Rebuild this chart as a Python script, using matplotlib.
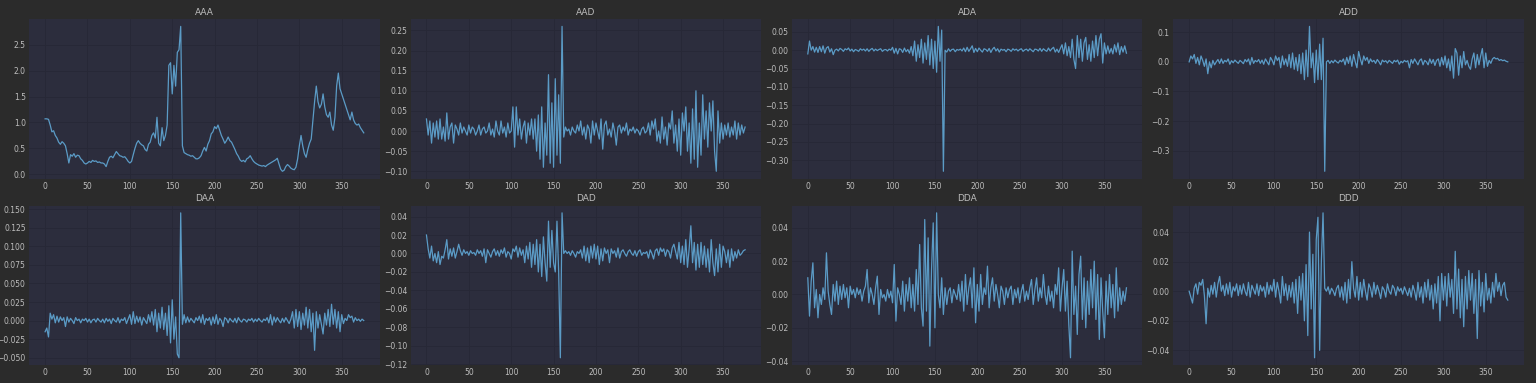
import numpy as np
import matplotlib
matplotlib.use('Agg')
import matplotlib.pyplot as plt

# one value every 2 steps, x = 0, 2, ..., 376
names = ['AAA', 'AAD', 'ADA', 'ADD', 'DAA', 'DAD', 'DDA', 'DDD']

aaa = [1.07, 1.07, 1.06, 0.95, 0.82, 0.84, 0.75, 0.70, 0.62, 0.58,
       0.63, 0.60, 0.55, 0.40, 0.22, 0.38, 0.35, 0.40, 0.33, 0.37,
       0.36, 0.30, 0.27, 0.22, 0.20, 0.22, 0.25, 0.23, 0.27, 0.25,
       0.26, 0.23, 0.24, 0.22, 0.22, 0.20, 0.15, 0.25, 0.33, 0.35,
       0.32, 0.38, 0.44, 0.40, 0.36, 0.35, 0.33, 0.34, 0.30, 0.25,
       0.22, 0.25, 0.38, 0.50, 0.60, 0.65, 0.60, 0.57, 0.55, 0.48,
       0.45, 0.58, 0.62, 0.75, 0.80, 0.70, 1.10, 0.60, 0.55, 0.90,
       0.65, 0.75, 0.95, 2.10, 2.15, 1.55, 2.10, 1.70, 2.35, 2.40,
       2.85, 0.55, 0.42, 0.40, 0.38, 0.37, 0.35, 0.36, 0.33, 0.30,
       0.30, 0.32, 0.36, 0.45, 0.52, 0.45, 0.58, 0.65, 0.78, 0.82,
       0.92, 0.88, 0.95, 0.85, 0.75, 0.68, 0.60, 0.65, 0.72, 0.65,
       0.62, 0.55, 0.48, 0.40, 0.35, 0.28, 0.25, 0.27, 0.24, 0.30,
       0.32, 0.36, 0.30, 0.25, 0.22, 0.20, 0.18, 0.17, 0.16, 0.17,
       0.15, 0.18, 0.20, 0.22, 0.24, 0.26, 0.28, 0.31, 0.20, 0.10,
       0.06, 0.08, 0.15, 0.19, 0.16, 0.12, 0.10, 0.09, 0.14, 0.30,
       0.55, 0.75, 0.55, 0.40, 0.33, 0.48, 0.60, 0.68, 1.05, 1.40,
       1.70, 1.40, 1.28, 1.35, 1.55, 1.30, 1.15, 1.10, 1.20, 0.95,
       0.85, 1.10, 1.70, 1.95, 1.65, 1.55, 1.45, 1.35, 1.25, 1.15,
       1.05, 1.20, 1.05, 0.98, 0.95, 0.97, 0.90, 0.85, 0.80]

aad = [0.03, -0.01, 0.025, -0.03, 0.02, -0.015, 0.025, -0.02, 0.03, -0.02,
       0.01, -0.025, 0.045, -0.02, 0.01, 0.02, -0.03, 0.015, 0.005, -0.01,
       0.02, -0.005, 0.01, 0.0, -0.01, 0.015, -0.005, 0.01, 0.005, -0.01,
       0.0, 0.015, -0.01, 0.005, 0.01, -0.005, 0.0, 0.02, -0.01, 0.005,
       -0.015, 0.025, 0.0, -0.01, 0.025, -0.005, 0.01, -0.015, 0.02, -0.005,
       0.0, 0.06, -0.04, 0.06, -0.01, 0.03, -0.02, 0.01, 0.025, -0.03,
       0.02, -0.01, 0.03, -0.02, 0.03, -0.05, 0.04, -0.07, 0.06, -0.09,
       0.02, -0.06, 0.14, -0.08, 0.07, -0.09, 0.13, -0.06, 0.09, -0.08,
       0.26, -0.015, 0.01, 0.0, 0.005, -0.01, 0.01, 0.0, -0.005, 0.015,
       0.0, 0.025, -0.01, 0.01, -0.02, 0.015, 0.005, -0.03, 0.025, -0.01,
       0.02, 0.0, -0.02, 0.03, -0.045, 0.015, 0.025, -0.01, 0.005, -0.015,
       0.02, 0.0, -0.035, 0.01, 0.015, -0.005, 0.01, 0.0, 0.02, -0.01,
       0.005, 0.0, 0.01, -0.005, 0.005, 0.0, -0.01, 0.005, 0.01, -0.005,
       0.0, 0.02, -0.01, 0.025, 0.005, 0.03, -0.025, 0.0, -0.03, 0.035,
       -0.02, 0.01, -0.035, 0.02, 0.005, 0.05, -0.03, 0.015, -0.05, 0.03,
       -0.06, 0.045, 0.0, 0.06, -0.05, 0.02, -0.08, 0.055, -0.07, 0.10,
       -0.09, 0.02, -0.06, 0.09, -0.02, 0.05, -0.04, 0.07, 0.0, 0.075,
       -0.05, -0.10, 0.05, -0.03, 0.02, -0.02, 0.015, -0.01, 0.02, -0.015,
       0.01, -0.01, 0.025, -0.02, 0.02, -0.01, 0.015, -0.005, 0.01]

ada = [-0.01, 0.025, 0.0, 0.01, -0.005, 0.008, -0.006, 0.01, -0.004, 0.012,
       -0.008, 0.006, 0.01, -0.005, 0.004, -0.012, 0.0, 0.003, -0.002, 0.005,
       0.002, -0.003, 0.004, 0.001, 0.006, -0.002, 0.003, -0.004, 0.002, 0.0,
       -0.003, 0.004, 0.0, 0.003, -0.002, 0.004, -0.003, 0.002, 0.005, -0.002,
       0.003, -0.001, 0.002, 0.004, -0.003, 0.001, 0.002, -0.002, 0.003, 0.0,
       0.008, -0.008, 0.005, -0.01, 0.004, 0.002, -0.006, 0.006, -0.004, 0.002,
       -0.008, 0.01, -0.015, 0.025, -0.03, 0.015, -0.02, 0.03, -0.035, 0.02,
       -0.025, 0.04, -0.04, 0.03, -0.05, 0.025, -0.06, 0.065, -0.03, 0.055,
       -0.33, 0.0, -0.005, 0.004, -0.003, 0.002, 0.003, -0.004, 0.002, 0.0,
       0.003, -0.002, 0.006, -0.004, 0.008, -0.003, 0.004, 0.012, -0.006, 0.005,
       -0.004, 0.006, 0.0, -0.005, 0.004, 0.002, -0.003, 0.005, -0.006, 0.003,
       0.008, -0.002, 0.004, -0.005, 0.003, 0.0, 0.002, -0.004, 0.003, 0.001,
       -0.003, 0.004, 0.0, 0.003, -0.002, 0.002, 0.004, -0.003, 0.001, 0.003,
       -0.002, 0.004, 0.0, -0.004, 0.003, 0.002, -0.002, 0.005, -0.003, 0.004,
       0.0, -0.003, 0.006, -0.002, 0.004, 0.008, -0.005, 0.003, -0.006, 0.005,
       0.015, -0.01, 0.02, -0.015, 0.01, -0.02, 0.03, -0.025, -0.05, 0.04,
       -0.02, 0.03, -0.03, 0.02, 0.035, -0.025, 0.015, -0.03, 0.025, -0.02,
       0.04, -0.015, 0.03, 0.045, -0.035, 0.02, -0.01, 0.012, -0.008, 0.005,
       -0.01, 0.015, -0.005, 0.02, -0.012, 0.01, -0.005, 0.012, -0.008]

add = [0.0, 0.02, 0.01, 0.025, -0.005, 0.015, -0.01, 0.02, 0.005, -0.015,
       0.01, -0.04, 0.0, -0.02, 0.005, -0.01, 0.0, 0.008, -0.005, 0.01,
       -0.005, 0.005, 0.0, 0.01, -0.008, 0.004, -0.003, 0.006, 0.0, -0.005,
       0.005, 0.0, -0.006, 0.008, 0.0, 0.01, -0.01, 0.015, -0.005, 0.005,
       0.0, 0.008, -0.005, 0.006, -0.008, 0.01, 0.0, -0.01, 0.015, 0.005,
       -0.01, 0.02, 0.005, 0.015, -0.02, 0.02, -0.01, 0.01, -0.015, 0.025,
       -0.02, 0.03, -0.025, 0.015, -0.03, 0.025, -0.04, 0.03, -0.06, 0.04,
       -0.05, 0.12, -0.02, 0.03, -0.07, 0.04, -0.06, 0.06, -0.06, 0.08,
       -0.37, 0.0, 0.005, -0.005, 0.004, -0.003, 0.006, 0.0, -0.004, 0.005,
       0.0, 0.01, -0.01, 0.015, -0.005, 0.02, -0.015, 0.025, 0.0, -0.02,
       0.035, 0.01, -0.01, 0.02, 0.005, 0.015, -0.005, 0.01, 0.0, 0.005,
       -0.005, 0.008, 0.0, -0.01, 0.006, 0.0, 0.004, -0.004, 0.005, 0.0,
       -0.005, 0.005, 0.0, 0.006, -0.008, 0.002, -0.003, 0.005, 0.0, 0.004,
       -0.02, 0.008, -0.005, 0.01, 0.0, -0.01, 0.005, 0.01, -0.01, 0.005,
       0.0, -0.01, 0.01, -0.005, 0.008, -0.012, 0.005, 0.01, -0.015, 0.015,
       -0.01, 0.02, -0.02, 0.01, -0.03, 0.02, -0.055, 0.045, 0.03, -0.045,
       0.02, -0.02, 0.035, -0.01, 0.005, -0.015, -0.025, 0.01, 0.03, -0.02,
       0.025, -0.01, 0.02, 0.045, -0.02, 0.03, -0.015, 0.005, -0.005, 0.01,
       0.015, 0.01, 0.012, 0.005, 0.008, 0.004, 0.006, 0.002, 0.0]

daa = [-0.015, -0.01, -0.022, 0.01, 0.002, 0.008, -0.003, 0.006, -0.002, 0.005,
       0.0, 0.004, -0.008, 0.005, -0.002, 0.003, 0.0, -0.004, 0.004, 0.0,
       0.002, -0.003, 0.002, 0.0, 0.003, -0.002, 0.002, -0.003, 0.001, 0.002,
       -0.002, 0.003, 0.0, -0.002, 0.002, -0.003, 0.003, -0.001, 0.002, -0.004,
       0.003, 0.0, -0.002, 0.004, -0.003, 0.002, 0.0, 0.004, -0.004, 0.002,
       0.008, -0.005, 0.012, -0.004, 0.006, -0.002, 0.005, -0.006, 0.004, 0.0,
       -0.004, 0.008, -0.002, 0.012, -0.006, 0.015, -0.015, 0.01, -0.01, 0.018,
       -0.012, 0.01, -0.02, 0.02, -0.03, 0.028, -0.025, 0.005, -0.045, -0.05,
       0.145, -0.005, 0.008, -0.003, 0.005, -0.002, 0.003, 0.0, -0.003, 0.004,
       0.0, 0.006, -0.003, 0.008, -0.005, 0.003, 0.0, 0.004, -0.006, 0.005,
       -0.004, 0.008, -0.005, 0.003, 0.0, -0.008, 0.004, 0.002, -0.003, 0.003,
       0.0, -0.002, 0.003, -0.003, 0.004, 0.0, -0.002, 0.002, 0.001, -0.002,
       0.002, 0.0, 0.003, -0.002, 0.002, -0.001, 0.003, 0.0, -0.002, 0.002,
       0.0, 0.004, -0.003, 0.008, -0.006, 0.005, -0.002, 0.004, 0.0, -0.003,
       0.003, -0.002, 0.004, 0.0, -0.004, 0.002, 0.012, -0.01, 0.015, -0.008,
       0.012, -0.012, 0.01, -0.006, 0.018, -0.01, 0.015, -0.015, 0.01, -0.04,
       0.012, -0.01, 0.008, -0.005, -0.018, 0.01, -0.006, 0.015, -0.008, 0.022,
       -0.005, 0.015, -0.01, 0.012, -0.015, 0.008, -0.004, 0.003, 0.0, 0.008,
       0.004, 0.006, -0.002, 0.004, 0.0, 0.002, -0.001, 0.002, 0.0]

dad = [0.02, 0.005, -0.005, 0.008, -0.008, 0.0, -0.01, 0.002, -0.012, -0.003,
       -0.005, 0.004, 0.015, -0.006, 0.005, -0.003, 0.006, -0.005, 0.002, 0.01,
       0.003, -0.002, 0.004, 0.0, 0.002, -0.002, 0.003, 0.0, 0.001, -0.002,
       0.004, 0.0, 0.003, -0.003, 0.005, -0.01, 0.004, 0.0, -0.004, 0.002,
       0.005, -0.002, 0.003, -0.003, 0.004, 0.0, 0.006, -0.004, 0.002, 0.0,
       -0.006, 0.005, 0.002, 0.008, -0.004, 0.006, -0.002, 0.004, -0.01, 0.008,
       -0.006, 0.012, -0.015, 0.01, -0.012, 0.015, -0.02, 0.01, -0.025, 0.018,
       -0.01, -0.03, 0.035, -0.015, 0.025, -0.01, -0.02, 0.035, -0.02, -0.113,
       0.044, 0.0, 0.003, 0.0, 0.002, -0.002, 0.003, 0.0, -0.004, 0.002,
       0.0, 0.004, -0.005, 0.008, -0.008, 0.006, -0.01, 0.008, -0.005, 0.01,
       -0.006, 0.008, -0.012, 0.005, -0.008, 0.006, 0.0, 0.004, -0.01, 0.005,
       0.0, 0.003, -0.004, 0.006, -0.005, 0.002, 0.004, 0.0, -0.003, 0.002,
       0.004, 0.0, -0.002, 0.003, -0.003, 0.002, 0.004, -0.002, 0.001, 0.0,
       0.002, -0.005, 0.004, 0.0, -0.006, 0.003, 0.005, -0.002, 0.006, 0.002,
       0.005, -0.003, 0.004, 0.002, -0.005, 0.006, 0.01, 0.002, -0.006, 0.012,
       -0.01, 0.008, -0.012, 0.015, -0.015, 0.005, 0.03, -0.01, 0.012, -0.018,
       0.01, -0.015, 0.012, -0.012, 0.008, -0.015, 0.005, -0.02, 0.015, -0.01,
       -0.024, 0.005, -0.02, 0.01, -0.015, 0.008, 0.002, -0.01, 0.004, -0.015,
       0.005, -0.008, 0.002, -0.005, 0.004, -0.002, 0.0, 0.003, 0.004]

dda = [0.01, -0.013, 0.008, 0.019, -0.008, 0.003, -0.014, 0.0, -0.006, 0.004,
       -0.003, 0.025, 0.002, -0.006, -0.012, 0.006, -0.004, 0.008, -0.006, 0.005,
       -0.003, 0.006, -0.002, 0.004, -0.008, 0.005, 0.0, 0.003, -0.002, 0.004,
       0.0, 0.003, -0.004, 0.002, 0.005, 0.015, -0.005, 0.004, 0.0, -0.006,
       0.004, 0.011, -0.012, 0.003, -0.002, 0.0, -0.004, 0.003, -0.002, 0.002,
       -0.005, 0.018, -0.016, 0.004, 0.0, -0.006, 0.008, -0.01, 0.006, -0.004,
       0.01, -0.008, 0.006, -0.01, 0.015, -0.006, 0.03, -0.008, -0.019, 0.045,
       -0.01, 0.034, -0.031, 0.015, 0.043, -0.02, 0.049, 0.0, -0.008, 0.01,
       -0.012, 0.004, -0.006, 0.002, 0.004, -0.005, 0.003, 0.0, -0.003, 0.006,
       -0.004, 0.008, -0.01, 0.012, -0.006, 0.004, 0.01, -0.008, 0.016, -0.017,
       0.006, -0.01, 0.012, -0.006, 0.004, 0.0, 0.017, -0.008, 0.004, 0.01,
       -0.004, 0.006, 0.0, -0.008, 0.005, 0.002, -0.006, 0.004, -0.002, 0.003,
       0.005, -0.006, 0.003, -0.002, 0.004, -0.005, 0.002, 0.006, -0.004, 0.002,
       -0.003, 0.004, 0.009, -0.006, 0.003, 0.01, -0.004, 0.004, -0.002, 0.012,
       0.0, -0.006, 0.005, -0.004, 0.002, -0.008, 0.006, 0.0, 0.016, -0.01,
       0.004, 0.015, -0.01, 0.008, -0.018, -0.038, 0.026, -0.012, 0.005, -0.024,
       0.012, 0.023, -0.015, 0.01, -0.02, 0.008, -0.012, 0.015, -0.008, 0.02,
       -0.015, 0.012, -0.027, 0.01, -0.01, -0.026, 0.008, -0.012, 0.012, -0.008,
       0.006, -0.014, 0.016, -0.01, 0.004, -0.006, 0.002, -0.004, 0.004]

ddd = [0.0, -0.004, -0.008, 0.002, 0.005, -0.002, 0.006, 0.004, 0.008, -0.003,
       -0.022, 0.002, -0.004, 0.004, -0.002, 0.006, -0.004, 0.005, 0.01, 0.0,
       0.004, -0.003, 0.005, -0.002, 0.006, -0.004, 0.003, 0.0, 0.005, -0.003,
       0.004, -0.002, 0.005, 0.0, -0.003, 0.006, -0.004, 0.004, 0.001, -0.002,
       0.005, -0.003, 0.004, 0.0, 0.003, -0.004, 0.006, -0.002, 0.004, 0.0,
       0.008, -0.004, 0.006, 0.0, -0.008, 0.01, -0.003, 0.005, -0.006, 0.004,
       -0.004, 0.006, -0.008, 0.008, -0.015, 0.01, -0.006, 0.012, -0.02, 0.018,
       -0.03, 0.04, -0.012, 0.025, -0.045, 0.035, 0.05, -0.04, 0.02, 0.053,
       0.002, 0.0, 0.003, -0.002, 0.002, 0.0, -0.003, 0.002, 0.004, -0.004,
       0.003, -0.006, 0.006, -0.008, 0.008, -0.005, 0.02, 0.002, -0.004, 0.01,
       -0.006, 0.006, -0.004, 0.008, 0.0, -0.006, 0.005, 0.002, -0.004, 0.006,
       -0.002, 0.004, 0.0, -0.005, 0.003, 0.001, -0.004, 0.005, 0.0, -0.002,
       0.004, 0.002, -0.003, 0.003, 0.0, 0.002, -0.002, 0.003, 0.0, -0.003,
       0.002, -0.004, 0.004, 0.0, -0.006, 0.006, -0.004, 0.003, -0.008, 0.006,
       -0.004, 0.008, -0.006, 0.004, -0.012, 0.005, -0.008, 0.01, -0.02, 0.012,
       -0.006, 0.01, -0.01, 0.012, -0.004, 0.008, -0.015, 0.027, -0.012, 0.015,
       -0.018, 0.008, -0.024, 0.01, -0.012, 0.014, -0.006, 0.012, -0.015, 0.008,
       -0.032, 0.014, -0.01, 0.006, -0.014, 0.012, -0.006, 0.002, -0.008, 0.006,
       -0.004, 0.012, 0.0, 0.006, -0.003, 0.004, 0.006, -0.004, -0.006]

series = [aaa, aad, ada, add, daa, dad, dda, ddd]

# dark theme colours
fig_bg = '#2b2b2b'
ax_bg = '#2c2d3d'
grid_col = '#272836'
line_col = '#5b9bc6'
text_col = '#bdbdbd'

fig, axes = plt.subplots(2, 4, figsize=(15.36, 3.83), dpi=100)
fig.patch.set_facecolor(fig_bg)
fig.subplots_adjust(left=0.019, right=0.992, top=0.95, bottom=0.047,
                    wspace=0.088, hspace=0.17)

for ax, name, vals in zip(axes.flat, names, series):
    x = np.arange(len(vals)) * 2
    ax.set_facecolor(ax_bg)
    ax.plot(x, vals, color=line_col, linewidth=0.9)
    ax.set_title(name, color=text_col, fontsize=6.5, pad=3)
    ax.grid(True, color=grid_col, linewidth=0.6)
    ax.set_axisbelow(True)
    for s in ax.spines.values():
        s.set_visible(False)
    ax.tick_params(colors=text_col, labelsize=5.5, length=0, pad=2.5)
    ax.set_xticks([0, 50, 100, 150, 200, 250, 300, 350])

plt.savefig('out.png', dpi=100, facecolor=fig_bg)
